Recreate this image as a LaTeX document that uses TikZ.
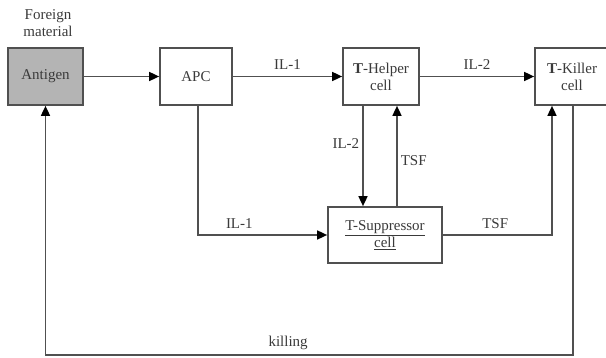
\documentclass[tikz,border=0pt]{standalone}
\usepackage{fontspec}
\setmainfont{Liberation Serif}
\usetikzlibrary{arrows.meta}
\definecolor{txt}{HTML}{3A3A3A}
\definecolor{ln}{HTML}{505050}
\definecolor{agfill}{HTML}{B4B4B4}
\begin{document}
\begin{tikzpicture}[x=1pt,y=-1pt,
  box/.style={draw=ln,line width=1.7pt,fill=white,rectangle,inner sep=0pt,align=center,
    font=\fontsize{15}{17}\selectfont,text=txt},
  lbl/.style={font=\fontsize{15}{17}\selectfont,text=txt,inner sep=1pt},
  conn/.style={draw=ln,line width=1.6pt,-{Triangle[length=10pt,width=9pt,color=black]}},
  plain/.style={draw=ln,line width=1.6pt}]
\useasboundingbox (0,0) rectangle (606,358);
\node[box,fill=agfill,minimum width=75pt,minimum height=57pt] (antigen) at (45.5,76.5) {Antigen};
\node[box,minimum width=72pt,minimum height=57pt] (apc) at (196,76.5) {APC};
\node[box,minimum width=76pt,minimum height=57pt] (helper) at (381,76.5) {\textbf{T}-Helper\\cell};
\node[box,minimum width=74pt,minimum height=57pt] (killer) at (572,76.5) {\textbf{T}-Killer\\cell};
\node[box,minimum width=114pt,minimum height=56pt] (supp) at (385,235) {\underline{T-Suppressor}\\\underline{cell}};
\node[lbl,align=center] (foreign) at (48,23) {Foreign\\material};
\coordinate (xa) at (363,0);
\coordinate (xb) at (397,0);
\coordinate (xc) at (198,0);
\coordinate (xd) at (552,0);
\coordinate (xe) at (573,0);
\coordinate (bot) at (0,355);
\draw[conn] (antigen.east) -- (apc.west);
\draw[conn] (apc.east) -- node[lbl,above=5pt] (il1a) {IL-1} (helper.west);
\draw[conn] (helper.east) -- node[lbl,above=5pt] (il2a) {IL-2} (killer.west);
\draw[conn] (helper.south -| xa) -- node[lbl,left=2pt,pos=0.38] (il2b) {IL-2} (supp.north -| xa);
\draw[conn] (supp.north -| xb) -- node[lbl,right=2pt,pos=0.45] (tsfa) {TSF} (helper.south -| xb);
\draw[conn] (apc.south -| xc) |- node[lbl,above=5pt,pos=0.66] (il1b) {IL-1} (supp.west);
\draw[conn] (supp.east) -| node[lbl,above=5pt,pos=0.24] (tsfb) {TSF} (killer.south -| xd);
\draw[conn] (killer.south -| xe) -- (xe |- bot) -| node[lbl,above=3pt,pos=0.27] (kill) {killing} (antigen.south);
\end{tikzpicture}
\end{document}
